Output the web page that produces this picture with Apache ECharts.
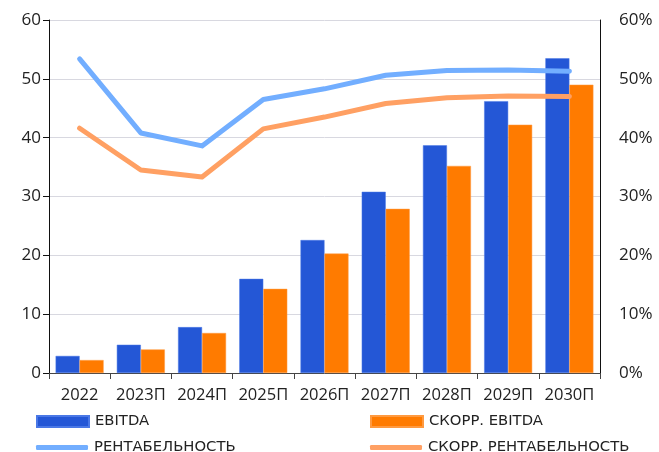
<!DOCTYPE html>
<html>
<head>
<meta charset="utf-8">
<script src="https://cdn.jsdelivr.net/npm/echarts@6/dist/echarts.min.js"></script>
<style>
  html, body { margin: 0; padding: 0; background: #fff; }
  #chart { width: 659px; height: 452px; }
</style>
</head>
<body>
<div id="chart"></div>
<script>
// Years on the category axis
const categories = ['2022', '2023П', '2024П', '2025П', '2026П', '2027П', '2028П', '2029П', '2030П'];
// EBITDA, bn
const ebitda = [2.9, 4.8, 7.8, 16.0, 22.6, 30.8, 38.7, 46.2, 53.5];
// Adjusted EBITDA, bn
const ebitdaAdj = [2.2, 4.0, 6.8, 14.3, 20.3, 27.9, 35.2, 42.2, 49.0];
// Margin, %
const margin = [53.4, 40.8, 38.6, 46.5, 48.3, 50.6, 51.4, 51.5, 51.3];
// Adjusted margin, %
const marginAdj = [41.6, 34.5, 33.3, 41.5, 43.5, 45.8, 46.8, 47.1, 47.0];
// Left and right axis tick labels
const leftTicks = [0, 10, 20, 30, 40, 50, 60];
const rightTicks = [0, 10, 20, 30, 40, 50, 60];

const FONT = 'Open Sans';
const LEGEND_FONT = 'DejaVu Sans';
const C_BLUE = '#2457D6';
const C_ORANGE = '#FF7B00';
const C_LBLUE = '#72AEFF';
const C_LORANGE = '#FFA063';

const chart = echarts.init(document.getElementById('chart'), null, { renderer: 'canvas' });

function legendItem(name, left, top, icon, h) {
  return {
    data: [{ name: name, icon: icon }],
    left: left, top: top,
    itemWidth: 52, itemHeight: h, itemGap: 0,
    padding: 0,
    textStyle: { fontFamily: LEGEND_FONT, fontSize: 14.8, color: '#222', padding: [0, 0, 0, 1] },
    selectedMode: false
  };
}

chart.setOption({
  animation: false,
  textStyle: { fontFamily: FONT },
  grid: { left: 49, right: 59, top: 20, bottom: 79, containLabel: false },
  legend: [
    legendItem('EBITDA', 36, 414, 'rect', 11),
    legendItem('СКОРР. EBITDA', 370, 414, 'rect', 11),
    legendItem('РЕНТАБЕЛЬНОСТЬ', 36, 440, 'roundRect', 5),
    legendItem('СКОРР. РЕНТАБЕЛЬНОСТЬ', 370, 440, 'roundRect', 5)
  ],
  xAxis: {
    type: 'category',
    data: categories,
    axisLine: { lineStyle: { color: '#444', width: 1 } },
    axisTick: { show: true, length: 6, lineStyle: { color: '#444' } },
    axisLabel: { interval: 0, fontFamily: FONT, fontSize: 16.5, color: '#222', margin: 14 }
  },
  yAxis: [
    {
      type: 'value', min: leftTicks[0], max: leftTicks[leftTicks.length - 1], interval: 10,
      axisLine: { show: true, lineStyle: { color: '#111', width: 1 } },
      axisTick: { show: true, length: 6, lineStyle: { color: '#111' } },
      axisLabel: { fontFamily: FONT, fontSize: 17, color: '#222', margin: 8 },
      splitLine: { show: true, lineStyle: { color: '#D8D8E0', width: 1 } }
    },
    {
      type: 'value', min: rightTicks[0], max: rightTicks[rightTicks.length - 1], interval: 10,
      position: 'right',
      axisLine: { show: true, lineStyle: { color: '#111', width: 1 } },
      axisTick: { show: false },
      axisLabel: { fontFamily: FONT, fontSize: 17, color: '#222', margin: 19, formatter: '{value}%' },
      splitLine: { show: false }
    }
  ],
  series: [
    {
      name: 'EBITDA', type: 'bar', data: ebitda, yAxisIndex: 0,
      barWidth: 24, barGap: '0%',
      itemStyle: { color: C_BLUE, borderColor: '#4a78e6', borderWidth: 0.5 }
    },
    {
      name: 'СКОРР. EBITDA', type: 'bar', data: ebitdaAdj, yAxisIndex: 0,
      barWidth: 24, barGap: '0%',
      itemStyle: { color: C_ORANGE, borderColor: '#ff9a40', borderWidth: 0.5 }
    },
    {
      name: 'РЕНТАБЕЛЬНОСТЬ', type: 'line', data: margin, yAxisIndex: 1,
      showSymbol: false, symbol: 'none',
      lineStyle: { color: C_LBLUE, width: 5, cap: 'round', join: 'round' },
      itemStyle: { color: C_LBLUE }
    },
    {
      name: 'СКОРР. РЕНТАБЕЛЬНОСТЬ', type: 'line', data: marginAdj, yAxisIndex: 1,
      showSymbol: false, symbol: 'none',
      lineStyle: { color: C_LORANGE, width: 5, cap: 'round', join: 'round' },
      itemStyle: { color: C_LORANGE }
    }
  ]
});
</script>
</body>
</html>
